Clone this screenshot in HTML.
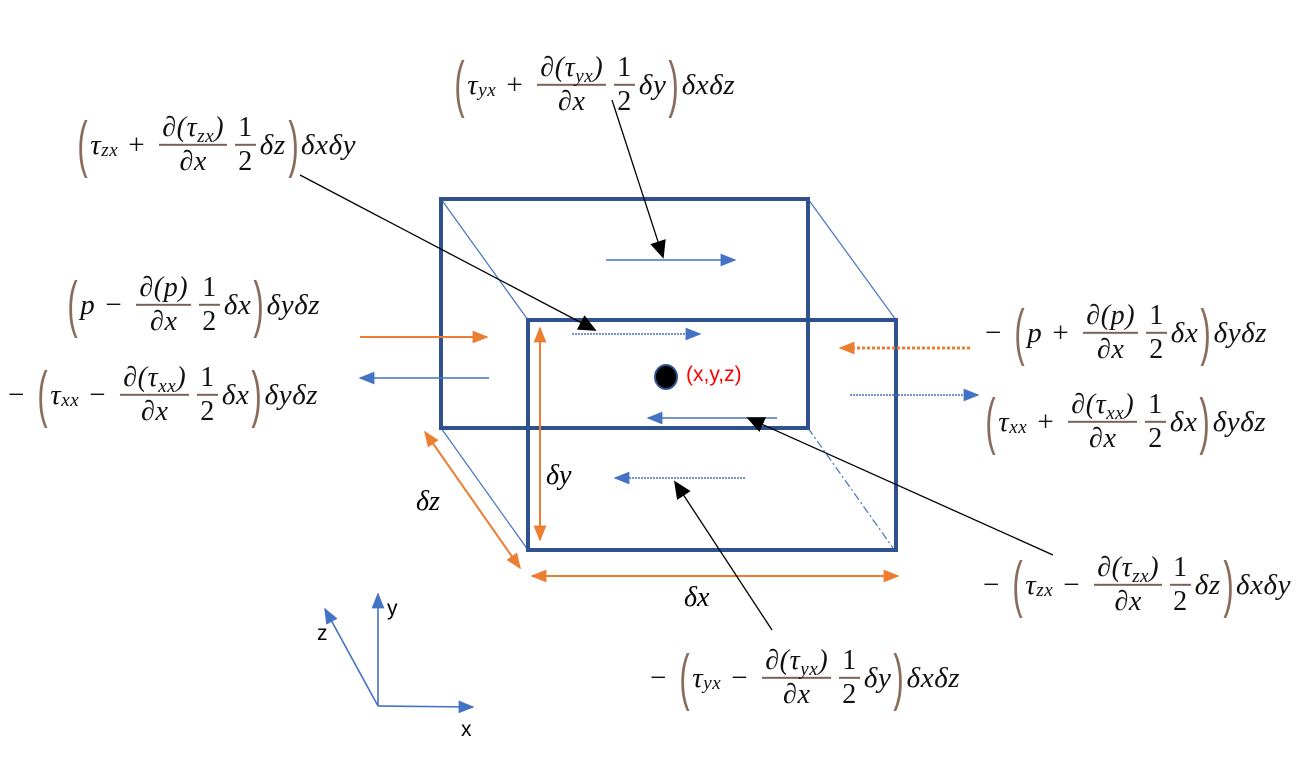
<!DOCTYPE html>
<html><head><meta charset="utf-8"><style>
body{margin:0;width:1303px;height:766px;background:#fff;position:relative;overflow:hidden}
svg{position:absolute;left:0;top:0}
.eq{position:absolute;display:flex;align-items:center;font-family:"Liberation Serif","DejaVu Serif",serif;font-style:italic;font-size:29px;letter-spacing:0.6px;color:#111;white-space:nowrap;transform:translateY(-50%)}
.eq sub{font-size:19px;position:relative;top:6px;vertical-align:baseline;line-height:0}
.p{font-style:normal;font-family:"Liberation Sans",sans-serif;font-size:62px;color:#8b6b5c;font-weight:normal;transform:scaleX(0.5);display:inline-block;line-height:1;margin:0 -3px}
.fr{display:inline-flex;flex-direction:column;align-items:center;margin:0 4px;font-size:28px}
.fr>span{line-height:1.15}
.fr>span:first-child{border-bottom:2px solid #7a6259;padding:0 3px}
.up{font-style:normal}
.o{margin:0 10px;font-style:normal}
.lbl{position:absolute;font-family:"Liberation Sans",sans-serif;font-size:21px}
.d{position:absolute;font-family:"Liberation Serif",serif;font-style:italic;font-size:28px}
</style></head><body>
<svg width="1303" height="766" viewBox="0 0 1303 766">
<defs>
<marker id="bb" viewBox="0 0 10 10" markerWidth="16" markerHeight="16" refX="9" refY="5" orient="auto" markerUnits="userSpaceOnUse"><path d="M0,1L10,5L0,9z" fill="#4472c4"/></marker>
<marker id="oo" viewBox="0 0 10 10" markerWidth="16" markerHeight="16" refX="9" refY="5" orient="auto-start-reverse" markerUnits="userSpaceOnUse"><path d="M0,1L10,5L0,9z" fill="#ed7d31"/></marker>
<marker id="kk" viewBox="0 0 10 10" markerWidth="18" markerHeight="18" refX="9" refY="5" orient="auto" markerUnits="userSpaceOnUse"><path d="M0,0.5L10,5L0,9.5z" fill="#000"/></marker>
</defs>
<g stroke="#4472c4" stroke-width="1.2" fill="none">
<line x1="441" y1="199" x2="528" y2="320"/>
<line x1="808" y1="199" x2="896" y2="320"/>
<line x1="441" y1="428" x2="528" y2="550"/>
<line x1="808" y1="428" x2="893" y2="548" stroke-dasharray="8,3,2,3"/>
</g>
<rect x="441" y="199" width="367" height="229" fill="none" stroke="#2f528f" stroke-width="4"/>
<rect x="528" y="320" width="368" height="230" fill="none" stroke="#2f528f" stroke-width="4"/>
<g stroke="#4472c4" stroke-width="1.6">
<line x1="606" y1="260" x2="735" y2="260" marker-end="url(#bb)"/>
<line x1="572" y1="334" x2="700" y2="334" stroke-dasharray="2,1" marker-end="url(#bb)"/>
<line x1="777" y1="418" x2="648" y2="418" marker-end="url(#bb)"/>
<line x1="745" y1="478" x2="615" y2="478" stroke-dasharray="2,1" marker-end="url(#bb)"/>
<line x1="489" y1="378" x2="360" y2="378" marker-end="url(#bb)"/>
<line x1="850" y1="395" x2="978" y2="395" stroke-dasharray="2,1" marker-end="url(#bb)"/>
<line x1="378" y1="706" x2="378" y2="594" marker-end="url(#bb)"/>
<line x1="378" y1="706" x2="473" y2="707" marker-end="url(#bb)"/>
<line x1="378" y1="706" x2="325" y2="609" marker-end="url(#bb)"/>
</g>
<g stroke="#ed7d31" stroke-width="2">
<line x1="360" y1="337" x2="487" y2="337" marker-end="url(#oo)"/>
<line x1="970" y1="348" x2="840" y2="348" stroke-width="3" stroke-dasharray="3,2" marker-end="url(#oo)"/>
<line x1="540" y1="328" x2="540" y2="540" marker-start="url(#oo)" marker-end="url(#oo)"/>
<line x1="425" y1="432" x2="520" y2="568" marker-start="url(#oo)" marker-end="url(#oo)"/>
<line x1="532" y1="576" x2="898" y2="576" marker-start="url(#oo)" marker-end="url(#oo)"/>
</g>
<g stroke="#000" stroke-width="1.3">
<line x1="300" y1="175" x2="595" y2="330" marker-end="url(#kk)"/>
<line x1="612" y1="100" x2="663" y2="257" marker-end="url(#kk)"/>
<line x1="1053" y1="555" x2="748" y2="418" marker-end="url(#kk)"/>
<line x1="772" y1="630" x2="675" y2="482" marker-end="url(#kk)"/>
</g>
<ellipse cx="666" cy="377" rx="11" ry="12" fill="#000" stroke="#2f528f" stroke-width="2"/>
</svg>
<div class="lbl" style="left:686px;top:363px;color:#f00">(x,y,z)</div>
<div class="lbl" style="left:387px;top:597px">y</div>
<div class="lbl" style="left:461px;top:718px">x</div>
<div class="lbl" style="left:317px;top:622px">z</div>
<div class="d" style="left:546px;top:460px">δy</div>
<div class="d" style="left:416px;top:486px">δz</div>
<div class="d" style="left:684px;top:582px">δx</div>

<div class="eq" style="left:452px;top:85px"><span class="p">(</span>τ<sub>yx</sub><span class="o">+</span><span class="fr"><span>∂(τ<sub>yx</sub>)</span><span>∂x</span></span><span class="fr up"><span>1</span><span>2</span></span>δy<span class="p">)</span>δxδz</div>
<div class="eq" style="left:75px;top:145px"><span class="p">(</span>τ<sub>zx</sub><span class="o">+</span><span class="fr"><span>∂(τ<sub>zx</sub>)</span><span>∂x</span></span><span class="fr up"><span>1</span><span>2</span></span>δz<span class="p">)</span>δxδy</div>
<div class="eq" style="left:65px;top:305px"><span class="p">(</span>p<span class="o">−</span><span class="fr"><span>∂(p)</span><span>∂x</span></span><span class="fr up"><span>1</span><span>2</span></span>δx<span class="p">)</span>δyδz</div>
<div class="eq" style="left:8px;top:395px"><span class="o" style="margin-left:0">−</span><span class="p">(</span>τ<sub>xx</sub><span class="o">−</span><span class="fr"><span>∂(τ<sub>xx</sub>)</span><span>∂x</span></span><span class="fr up"><span>1</span><span>2</span></span>δx<span class="p">)</span>δyδz</div>
<div class="eq" style="left:985px;top:333px"><span class="o" style="margin-left:0">−</span><span class="p">(</span>p<span class="o">+</span><span class="fr"><span>∂(p)</span><span>∂x</span></span><span class="fr up"><span>1</span><span>2</span></span>δx<span class="p">)</span>δyδz</div>
<div class="eq" style="left:983px;top:422px"><span class="p">(</span>τ<sub>xx</sub><span class="o">+</span><span class="fr"><span>∂(τ<sub>xx</sub>)</span><span>∂x</span></span><span class="fr up"><span>1</span><span>2</span></span>δx<span class="p">)</span>δyδz</div>
<div class="eq" style="left:983px;top:585px"><span class="o" style="margin-left:0">−</span><span class="p">(</span>τ<sub>zx</sub><span class="o">−</span><span class="fr"><span>∂(τ<sub>zx</sub>)</span><span>∂x</span></span><span class="fr up"><span>1</span><span>2</span></span>δz<span class="p">)</span>δxδy</div>
<div class="eq" style="left:650px;top:678px"><span class="o" style="margin-left:0">−</span><span class="p">(</span>τ<sub>yx</sub><span class="o">−</span><span class="fr"><span>∂(τ<sub>yx</sub>)</span><span>∂x</span></span><span class="fr up"><span>1</span><span>2</span></span>δy<span class="p">)</span>δxδz</div>
</body></html>
